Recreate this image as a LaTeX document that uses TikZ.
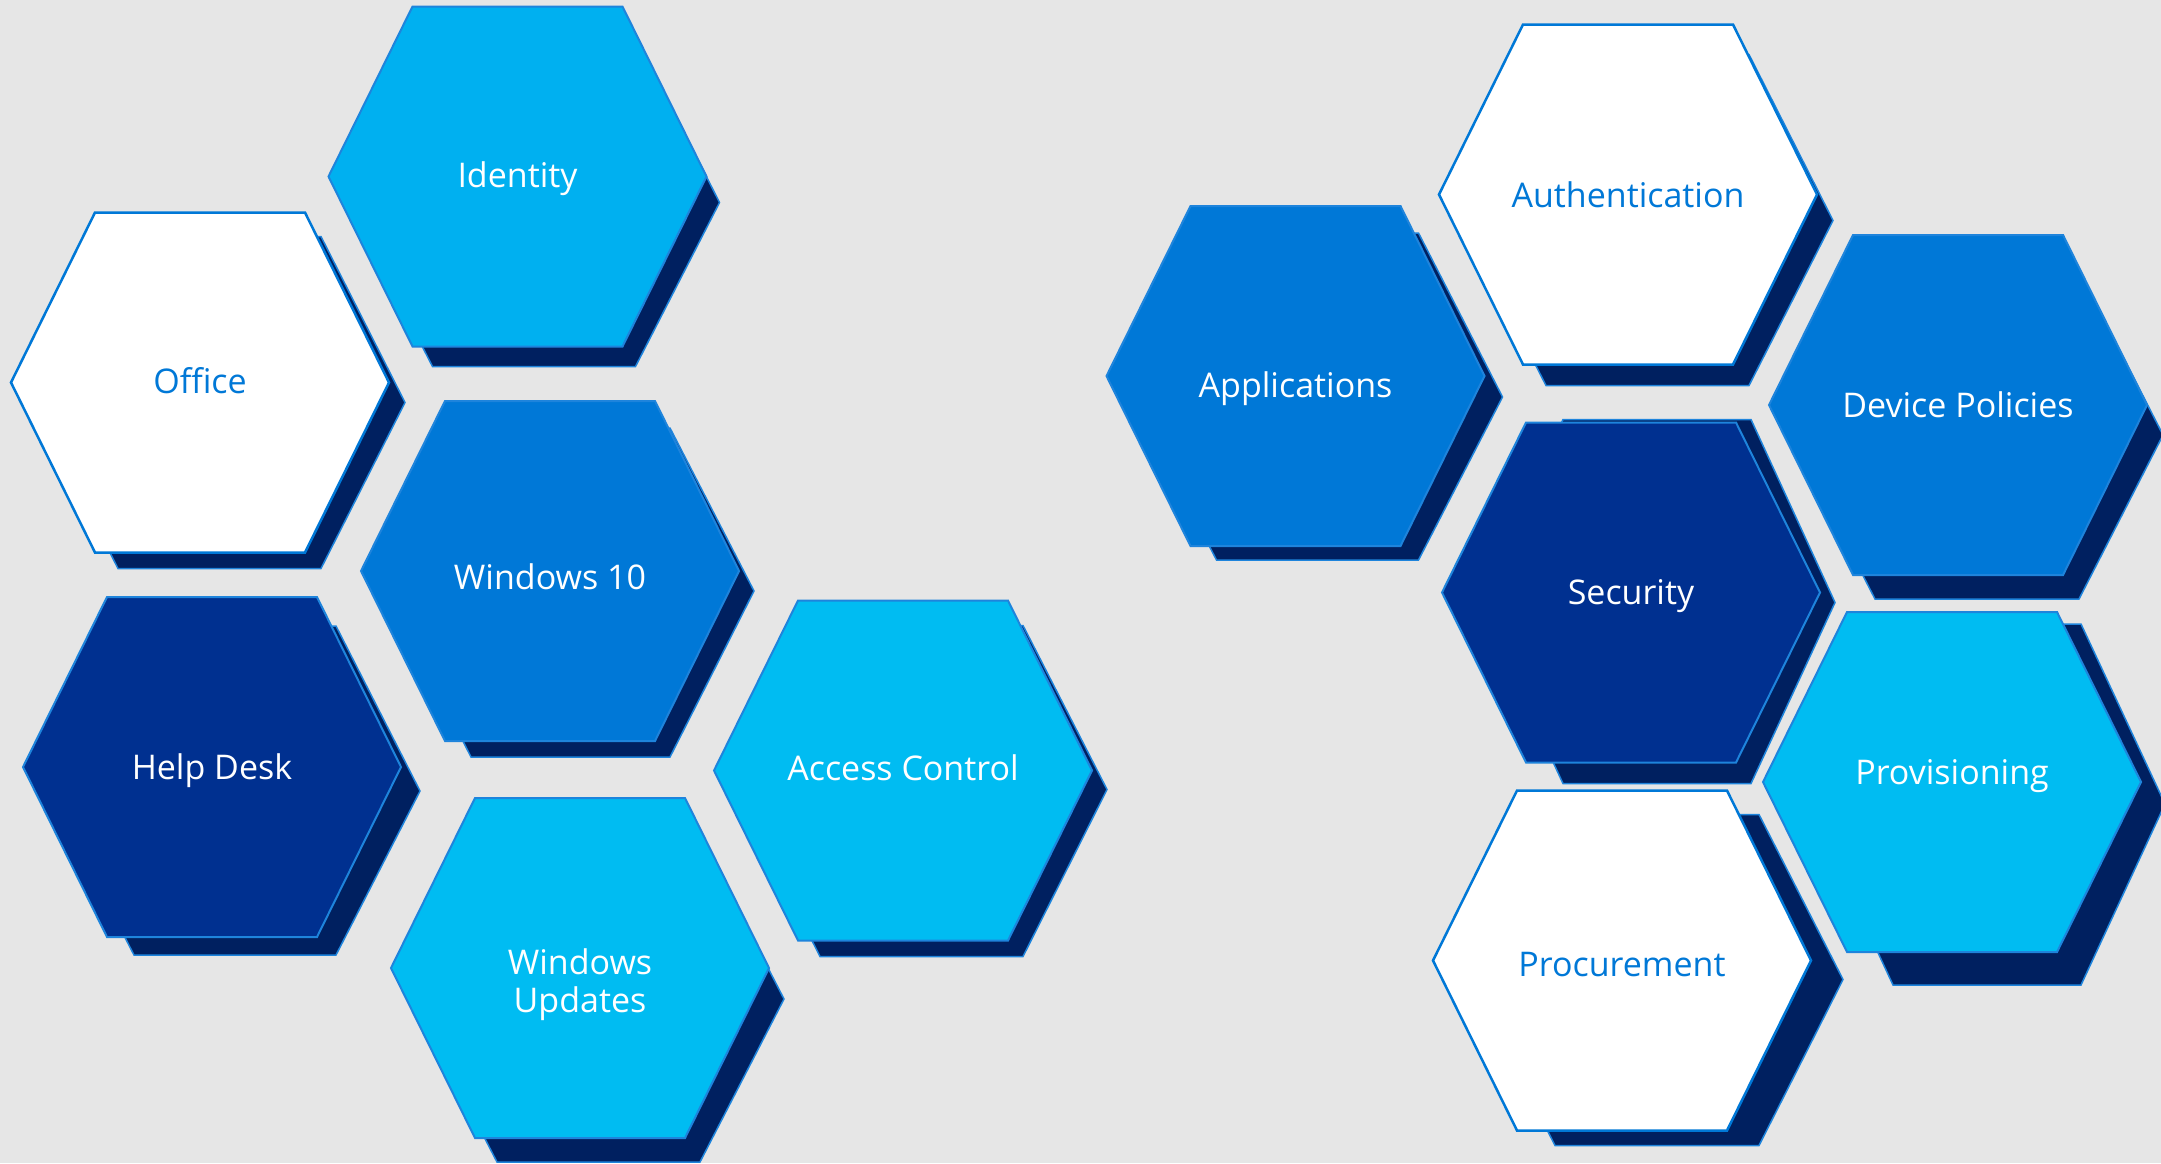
\documentclass[tikz,border=0pt]{standalone}
\usepackage{fontspec}
\setmainfont{Open Sans}
\definecolor{bgc}{HTML}{E6E6E6}
\definecolor{shadowc}{HTML}{002060}
\definecolor{edgec}{HTML}{1E84DC}
\definecolor{lightc}{HTML}{00B0F0}
\definecolor{cyanc}{HTML}{00BCF2}
\definecolor{midc}{HTML}{0078D7}
\definecolor{darkc}{HTML}{003090}
\definecolor{bluetext}{HTML}{0078D7}
\tikzset{
  hexshadow/.style={fill=shadowc, draw=edgec, line width=1.5pt, line join=miter},
  hexwhite/.style={fill=white, draw=midc, line width=2.5pt, line join=miter},
  hexlight/.style={fill=lightc, draw=edgec, line width=2pt, line join=miter},
  hexcyan/.style={fill=cyanc, draw=edgec, line width=2pt, line join=miter},
  hexmid/.style={fill=midc, draw=edgec, line width=2pt, line join=miter},
  hexdark/.style={fill=darkc, draw=edgec, line width=2pt, line join=miter},
  lbl/.style={anchor=base, inner sep=0pt, text=white, font=\fontsize{34}{38}\selectfont},
  lblblue/.style={lbl, text=bluetext},
}
% #1 cx, #2 cy, #3 hex style, #4 dx, #5 dt, #6 dm, #7 db, #8 e
\newcommand\hexcell[8]{%
  \begin{scope}[shift={(#1,#2)}]
    \path[hexshadow] ({-105+(#4)+(#8)},{-170+(#5)}) -- ({105+(#4)},{-170+(#5)})
      -- ({189+(#4)},{#6}) -- ({105+(#4)},{170+(#7)})
      -- ({-105+(#4)+(#8)},{170+(#7)}) -- ({-189+(#4)+(#8)},{#6}) -- cycle;
    \path[#3] (-105,-170) -- (105,-170) -- (189,0) -- (105,170)
      -- (-105,170) -- (-189,0) -- cycle;
  \end{scope}}
\begin{document}
\begin{tikzpicture}[x=1pt,y=-1pt]
  \useasboundingbox (0,0) rectangle (2161,1163);
  \clip (0,0) rectangle (2161,1163);
  \fill[bgc] (0,0) rectangle (2161,1163);

  % left group
  \hexcell{517.5}{176.5}{hexlight}{13}{30}{26}{20}{7}
  \hexcell{200}{382.5}{hexwhite}{16}{24}{20}{16}{7}
  \hexcell{550}{571}{hexmid}{15}{27}{20}{16}{11}
  \hexcell{212}{767}{hexdark}{19}{29}{24}{18}{8}
  \hexcell{903}{770.5}{hexcyan}{15}{25}{19}{16}{7}
  \hexcell{580}{968}{hexcyan}{15}{38}{31}{24}{7}

  % right group
  \hexcell{1628}{194.5}{hexwhite}{16}{30}{26}{21}{7}
  \hexcell{1295.5}{376}{hexmid}{18}{27}{21}{14}{8}
  \hexcell{1958}{405}{hexmid}{16}{36}{30}{24}{6}
  \hexcell{1631}{592.5}{hexdark}{15}{-3}{10}{21}{22}
  \hexcell{1952}{782}{hexcyan}{24}{12}{22}{33}{22}
  \hexcell{1622}{960.5}{hexwhite}{32}{24}{19}{15}{6}

  % labels
  \node[lbl] (identity) at (517.5,187) {Identity};
  \node[lblblue] (office) at (200,393) {Office};
  \node[lbl] (win10) at (550,589) {Windows 10};
  \node[lbl] (helpdesk) at (212,779) {Help Desk};
  \node[lbl] (access) at (903,780) {Access Control};
  \node[lbl, anchor=center, align=center] (winupd) at (580,985) {Windows\\Updates};
  \node[lblblue] (auth) at (1628,207) {Authentication};
  \node[lbl] (apps) at (1295.5,397) {Applications};
  \node[lbl] (devpol) at (1958,417) {Device Policies};
  \node[lbl] (security) at (1631,604) {Security};
  \node[lbl] (prov) at (1952,784.5) {Provisioning};
  \node[lblblue] (proc) at (1622,976) {Procurement};
\end{tikzpicture}
\end{document}
